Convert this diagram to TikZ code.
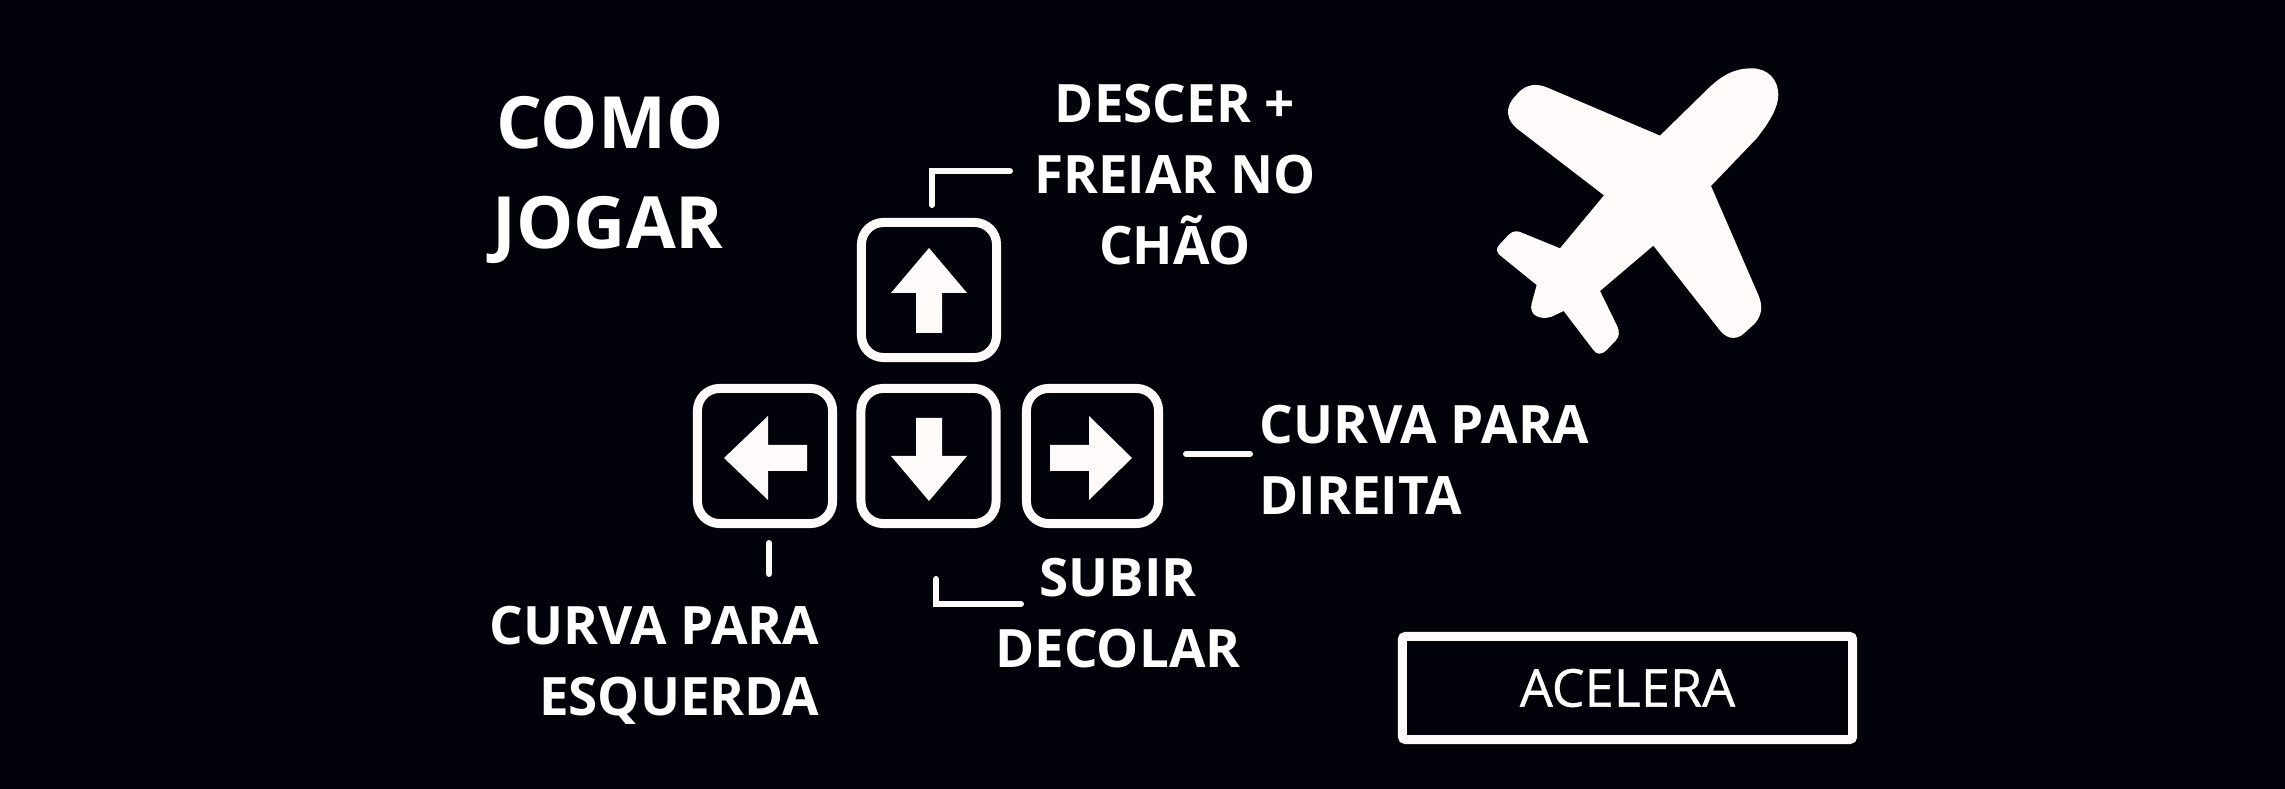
\documentclass[tikz,border=0pt]{standalone}
\usepackage{fontspec}
\setmainfont{Open Sans}
\newfontfamily\btnfont[FakeBold=0.6]{Open Sans}
\definecolor{panel}{HTML}{02020A}
\definecolor{snow}{HTML}{FFFAFA}
\tikzset{
  keycap/.style={draw=snow, line width=2.56pt, rounded corners=0.22cm, minimum size=1.35cm, inner sep=0pt},
  leader/.style={draw=snow, line width=1.7pt, line cap=round},
  hint/.style={text=white, inner sep=0pt, font=\bfseries\fontsize{15.05}{20.2}\selectfont},
  headline/.style={text=white, inner sep=0pt, font=\bfseries\fontsize{20.5}{28.2}\selectfont}
}
\begin{document}
\begin{tikzpicture}[x=0.01cm,y=-0.01cm]
    \fill[panel] (0,0) rectangle (2285,789);
    \useasboundingbox (0,0) rectangle (2285,789);
    % keys
    \node[keycap] (keyUp) at (929,290) {};
    \node[keycap] (keyLeft) at (765,456) {};
    \node[keycap] (keyDown) at (928.5,456) {};
    \node[keycap, minimum width=1.32cm] (keyRight) at (1092.5,456) {};
    \fill[snow] (929,248) -- (967,293) -- (942,293) -- (942,333) -- (916,333) -- (916,293) -- (891,293) -- cycle;
    \fill[snow] (929,501) -- (967,456) -- (942,456) -- (942,418) -- (916,418) -- (916,456) -- (891,456) -- cycle;
    \fill[snow] (724,458) -- (768,416) -- (768,445) -- (807,445) -- (807,471) -- (768,471) -- (768,500) -- cycle;
    \fill[snow] (1132,458) -- (1089,416) -- (1089,445) -- (1050,445) -- (1050,471) -- (1089,471) -- (1089,500) -- cycle;
    % labels
    \node[headline, align=right] (title) at (608,180) {COMO\\JOGAR};
    \node[hint, align=center] (lblUp) at (1175,175) {DESCER +\\FREIAR NO\\CHÃO};
    \node[hint, align=left, anchor=west] (lblRight) at (1259,459.5) {CURVA PARA\\DIREITA};
    \node[hint, align=center] (lblDown) at (1118,613.5) {SUBIR\\DECOLAR};
    \node[hint, align=right, anchor=east] (lblLeft) at (820,665) {CURVA PARA\\ESQUERDA};
    % leaders
    \coordinate (upStart) at (932,205);
    \coordinate (upEnd) at (1010,171);
    \coordinate (rightStart) at (1186,454);
    \coordinate (rightEnd) at (1250,454);
    \coordinate (leftStart) at (769,543);
    \coordinate (leftEnd) at (769,574);
    \coordinate (downStart) at (936,579);
    \coordinate (downEnd) at (1021,604);
    \draw[leader] (upStart) |- (upEnd);
    \draw[leader] (rightStart) -- (rightEnd);
    \draw[leader] (leftStart) -- (leftEnd);
    \draw[leader] (downStart) |- (downEnd);
    % button
    \node[draw=snow, line width=2.56pt, rounded corners=0.03cm, minimum width=4.5cm, minimum height=1.03cm, inner sep=0pt, text=white, font=\btnfont\fontsize{14.85}{18}\selectfont] (btnAccel) at (1627.5,688) {ACELERA};
    % plane
    \begin{scope}[shift={(1450,40)},scale=1/3]
    \fill[snow] (630,287) -- (770,150) .. controls (820,100) and (860,85) .. (905,85) .. controls (955,85) and (985,120) .. (985,165) .. controls (985,200) and (960,245) .. (920,295) -- (783,438) -- (925,765) .. controls (940,800) and (935,825) .. (915,850) -- (880,882) .. controls (855,903) and (825,895) .. (805,865) -- (610,617) -- (450,753) -- (500,855) .. controls (510,875) and (508,890) .. (497,902) -- (470,930) .. controls (455,945) and (440,945) .. (430,930) -- (341,813) -- (305,830) .. controls (270,842) and (235,825) .. (245,790) -- (260,735) -- (155,650) .. controls (135,635) and (138,625) .. (150,612) -- (175,585) .. controls (190,570) and (205,572) .. (220,580) -- (330,625) -- (462,466) -- (200,265) .. controls (170,240) and (165,205) .. (190,175) -- (205,158) .. controls (230,132) and (260,130) .. (290,142) -- cycle;
    \end{scope}
\end{tikzpicture}
\end{document}
